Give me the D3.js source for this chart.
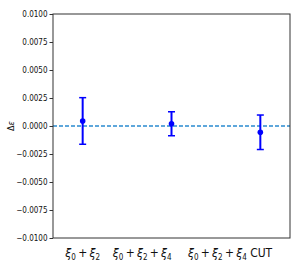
<!DOCTYPE html>
<html><head><meta charset="utf-8">
<script src="https://cdn.jsdelivr.net/npm/d3@7"></script>
<style>body{margin:0;background:#fff}svg{display:block}</style>
</head><body>
<script>
const categories = [["ξ","0","+","ξ","2"],["ξ","0","+","ξ","2","+","ξ","4"],["ξ","0","+","ξ","2","+","ξ","4"," CUT"]];
const values = [0.00045, 0.00020, -0.00056];
const errors = [0.00208, 0.00107, 0.00154];
const tickPositions = [0, 0.67, 1.66];
const yTicks = [-0.01, -0.0075, -0.005, -0.0025, 0, 0.0025, 0.005, 0.0075, 0.01];

const W = 300, H = 273;
const m = {l: 53, r: 10, t: 14, b: 35};
const svg = d3.select("body").append("svg").attr("width", W).attr("height", H);
const x = d3.scaleLinear().domain([-0.334, 2.334]).range([m.l, W - m.r]);
const y = d3.scaleLinear().domain([-0.01, 0.01]).range([H - m.b, m.t]);

svg.append("line").attr("x1", x(-0.334)).attr("x2", x(2.334)).attr("y1", y(0)).attr("y2", y(0))
  .attr("stroke", "#2a8ad0").attr("stroke-width", 1.3).attr("stroke-dasharray", "4,2");

svg.append("rect").attr("x", m.l).attr("y", m.t).attr("width", W - m.l - m.r).attr("height", H - m.t - m.b)
  .attr("fill", "none").attr("stroke", "#333").attr("stroke-width", 1);

const ya = svg.append("g").attr("transform", `translate(${m.l},0)`)
  .call(d3.axisLeft(y).tickValues(yTicks).tickFormat(d3.format(".4f")).tickSize(3.5).tickPadding(2));
ya.select(".domain").remove();
ya.selectAll("text").attr("font-family", "DejaVu Sans Condensed, DejaVu Sans").attr("font-size", 8).attr("fill", "#111")
  .text(d => d3.format(".4f")(d).replace("-", "\u2212"));
ya.selectAll("line").attr("stroke", "#333");

svg.append("text").attr("transform", `translate(14,${y(0)}) rotate(-90)`).attr("text-anchor", "middle")
  .attr("font-family", "DejaVu Sans").attr("font-size", 8).attr("fill", "#111")
  .append("tspan").text("Δ").append("tspan").attr("font-style", "italic").text("ε");

const g = svg.append("g");
values.forEach((v, i) => {
  const cx = x(i), e = errors[i];
  g.append("line").attr("x1", cx).attr("x2", cx).attr("y1", y(v - e)).attr("y2", y(v + e))
    .attr("stroke", "#0000ff").attr("stroke-width", 2);
  [v - e, v + e].forEach(t => g.append("line").attr("x1", cx - 3.5).attr("x2", cx + 3.5).attr("y1", y(t)).attr("y2", y(t))
    .attr("stroke", "#0000ff").attr("stroke-width", 1.5));
  g.append("circle").attr("cx", cx).attr("cy", y(v)).attr("r", 2.8).attr("fill", "#0000ff");
});

categories.forEach((parts, i) => {
  const t = svg.append("text").attr("x", x(tickPositions[i])).attr("y", 257).attr("text-anchor", "middle")
    .attr("font-family", "DejaVu Sans Condensed, DejaVu Sans").attr("font-size", 12).attr("fill", "#111");
  let off = 0, pad = 0;
  parts.forEach(p => {
    if (p === "ξ") { t.append("tspan").attr("font-style", "italic").attr("dy", -off).attr("dx", pad).text(p); off = 0; pad = 0; }
    else if (/^[024]$/.test(p)) { t.append("tspan").attr("font-size", 8).attr("dy", 2.8 - off).text(p); off = 2.8; }
    else if (p === "+") { t.append("tspan").attr("dy", -off).attr("dx", 2.2).text("+"); off = 0; pad = 2.2; }
    else { t.append("tspan").attr("dy", -off).text(p.replace(/ /g, "\u00a0")); off = 0; }
  });
});
</script>
</body></html>
